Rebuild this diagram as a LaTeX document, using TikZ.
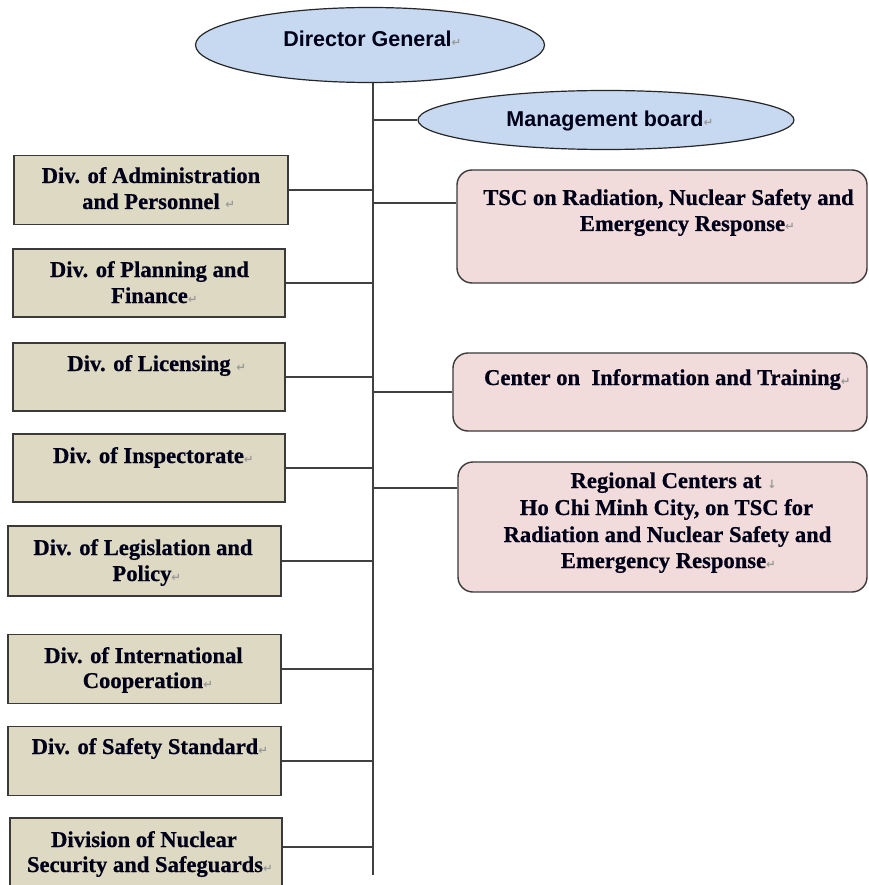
\documentclass[tikz,border=0pt]{standalone}
\usepackage{fontspec}
\setmainfont{Liberation Serif}[BoldFeatures={FakeBold=0.6}]
\newfontfamily\headsans{Liberation Sans}
\newfontfamily\symfont{DejaVu Sans}
\usetikzlibrary{shapes.geometric}
\definecolor{ellfill}{HTML}{C6D9F1}
\definecolor{divfill}{HTML}{DDD9C3}
\definecolor{ctrfill}{HTML}{F2DCDB}
\definecolor{edgecol}{HTML}{3A3A3A}
\definecolor{linecol}{HTML}{404040}
\definecolor{markgray}{HTML}{9A9A9A}
\newcommand{\pmk}{\rlap{{\symfont\fontsize{11.5}{11.5}\selectfont\color{markgray}↵}}}
\newcommand{\spmk}{\rlap{\ {\symfont\fontsize{11.5}{11.5}\selectfont\color{markgray}↵}}}
\newcommand{\dnmk}{\rlap{\ {\symfont\fontsize{11.5}{11.5}\selectfont\color{markgray}↓}}}
\tikzset{
  ellnode/.style={ellipse, draw=black!85, line width=1.2pt, fill=ellfill, inner sep=0pt},
  divbox/.style={rectangle, draw=edgecol, line width=1.4pt, fill=divfill, inner sep=0pt},
  ctrbox/.style={rectangle, rounded corners=15pt, draw=edgecol, line width=1.4pt, fill=ctrfill, inner sep=0pt},
  serifline/.style={inner sep=0pt, anchor=base, text=black!90!blue, font=\bfseries\fontsize{22.6}{26}\selectfont},
  sansline/.style={inner sep=0pt, anchor=base, text=black!90!blue, font=\headsans\bfseries\fontsize{21.5}{26}\selectfont},
  conn/.style={draw=linecol, line width=1.5pt}
}
\begin{document}
\begin{tikzpicture}[x=1pt,y=-1pt]
\useasboundingbox (0,0) rectangle (868,885);
\clip (0,0) rectangle (868,885);
\fill[white] (0,0) rectangle (868,885);

% ellipses
\node[ellnode, minimum width=349pt, minimum height=75pt] (dg) at (370,45) {};
\node[ellnode, minimum width=376pt, minimum height=59pt] (mb) at (606,120) {};
\node[sansline] (dgT) at (367.5,47) {Director General\pmk};
\node[sansline] (mbT) at (605,127) {Management board\pmk};

% spine
\coordinate (spBot) at (373,875);
\coordinate (cTsc) at (373,203);
\coordinate (cReg) at (373,488);
\draw[conn] (spBot |- dg.south) -- (spBot);
\draw[conn] (spBot |- mb.west) -- (mb.west);

% division boxes
\node[divbox, minimum width=274pt, minimum height=69pt] (adm) at (151,190) {};
\node[divbox, minimum width=272pt, minimum height=68pt] (pla) at (149,283) {};
\node[divbox, minimum width=272pt, minimum height=68pt] (lic) at (149,377) {};
\node[divbox, minimum width=272pt, minimum height=68pt] (ins) at (149,468) {};
\node[divbox, minimum width=273pt, minimum height=70pt] (leg) at (144.5,561) {};
\node[divbox, minimum width=273pt, minimum height=69pt] (int) at (144.5,669) {};
\node[divbox, minimum width=273pt, minimum height=69pt] (saf) at (144.5,761) {};
\node[divbox, minimum width=272pt, minimum height=80pt] (nuc) at (146,858) {};

\node[serifline] (admT1) at (151,183) {Div. of Administration};
\node[serifline] (admT2) at (151,209) {and Personnel\spmk};
\node[serifline] (plaT1) at (149.5,277) {Div. of Planning and};
\node[serifline] (plaT2) at (149.5,303) {Finance\pmk};
\node[serifline] (licT1) at (149,371) {Div. of Licensing\spmk};
\node[serifline] (insT1) at (148.5,463) {Div. of Inspectorate\pmk};
\node[serifline] (legT1) at (143,555) {Div. of Legislation and};
\node[serifline] (legT2) at (142,581) {Policy\pmk};
\node[serifline] (intT1) at (143.5,663) {Div. of International};
\node[serifline] (intT2) at (143,688) {Cooperation\pmk};
\node[serifline] (safT1) at (145,754) {Div. of Safety Standard\pmk};
\node[serifline] (nucT1) at (144,847) {Division of Nuclear};
\node[serifline] (nucT2) at (145,872) {Security and Safeguards\pmk};

% center boxes
\node[ctrbox, minimum width=410pt, minimum height=113pt] (tsc) at (662,226.5) {};
\node[ctrbox, minimum width=414pt, minimum height=78pt] (inf) at (660,392) {};
\node[ctrbox, minimum width=409pt, minimum height=130pt] (reg) at (662.5,527) {};

\node[serifline] (tscT1) at (668.5,205) {TSC on Radiation, Nuclear Safety and};
\node[serifline] (tscT2) at (682.5,231) {Emergency Response\pmk};
\node[serifline] (infT1) at (662.5,385) {Center on\ \ Information and Training\pmk};
\node[serifline] (regT1) at (666,488) {Regional Centers at\dnmk};
\node[serifline] (regT2) at (666.5,515) {Ho Chi Minh City, on TSC for};
\node[serifline] (regT3) at (667.5,542) {Radiation and Nuclear Safety and};
\node[serifline] (regT4) at (663.5,568) {Emergency Response\pmk};

% connectors
\draw[conn] (adm.east) -- (spBot |- adm.east);
\draw[conn] (pla.east) -- (spBot |- pla.east);
\draw[conn] (lic.east) -- (spBot |- lic.east);
\draw[conn] (ins.east) -- (spBot |- ins.east);
\draw[conn] (leg.east) -- (spBot |- leg.east);
\draw[conn] (int.east) -- (spBot |- int.east);
\draw[conn] (saf.east) -- (spBot |- saf.east);
\draw[conn] (nucT1.base -| nuc.east) -- (spBot |- nucT1.base);
\draw[conn] (cTsc) -- (cTsc -| tsc.west);
\draw[conn] (spBot |- inf.west) -- (inf.west);
\draw[conn] (cReg) -- (cReg -| reg.west);
\end{tikzpicture}
\end{document}
